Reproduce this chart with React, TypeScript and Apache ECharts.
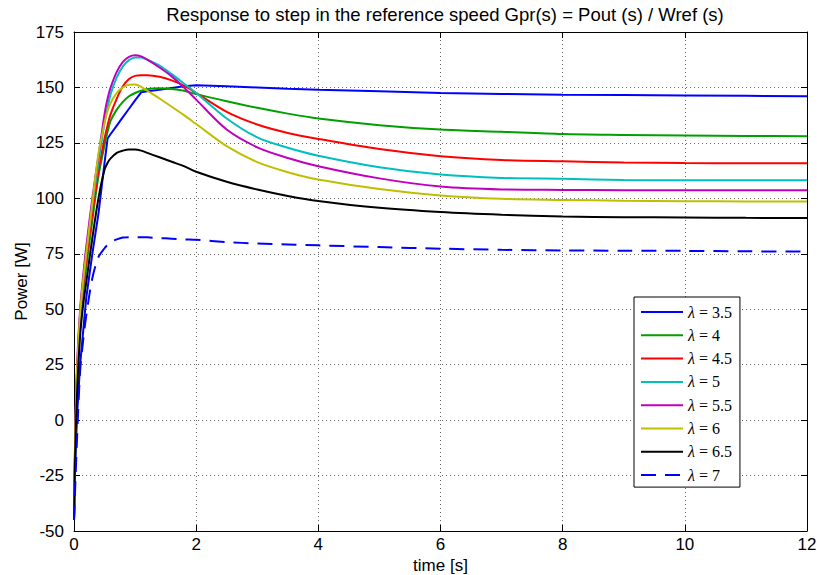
import React, { useEffect, useRef } from "react";
import * as echarts from "echarts";

// time samples [s]
const time = [0, 0.02, 0.05, 0.1, 0.15, 0.2, 0.3, 0.4, 0.5, 0.55, 0.6, 0.7, 0.8, 0.9, 1.0, 1.1, 1.2, 1.4, 1.6, 1.8, 2.0, 2.5, 3, 3.5, 4, 5, 6, 7, 8, 9, 10, 11, 12];

const lambdaLabels = ["3.5", "4", "4.5", "5", "5.5", "6", "6.5", "7"];

// Power [W] per lambda
const p35 = [-45, -20, 2, 25, 40, 55, 75, 93, 116, 127, 129, 132.8, 136.6, 140.4, 144.2, 147.8, 148.3, 149, 149.8, 150.5, 151, 150.5, 150, 149.4, 149, 148.3, 147.5, 147.1, 146.7, 146.6, 146.4, 146.2, 146];
const p4 = [-45, -12, 18, 44, 57, 69, 90, 110, 124, 130, 135, 140, 143.5, 146, 147.5, 148.5, 149.3, 149.6, 149.3, 148.5, 147, 143.8, 140.8, 138.2, 136, 133, 131, 130, 129, 128.6, 128.3, 128.1, 128];
const p45 = [-45, -10, 20, 46, 60, 72, 93, 112, 127, 133, 138, 145, 150.5, 153.8, 155.2, 155.5, 155.5, 154.8, 153.2, 150.8, 147.5, 139, 133.3, 129.5, 126.8, 122.2, 119, 117.3, 116.7, 116.2, 115.9, 115.8, 115.8];
const p5 = [-45, -8, 22, 48, 63, 76, 97, 116, 134, 141, 147, 154.5, 159.5, 162.3, 163.5, 163.5, 162.5, 159.8, 156, 151.8, 147.5, 136, 127.5, 122.8, 119.2, 114, 110.7, 109.2, 108.8, 108.3, 108.1, 108.1, 108.1];
const p55 = [-45, -5, 25, 50, 65, 78, 100, 119, 138, 145, 150, 157, 161.5, 163.8, 164.5, 164, 162.5, 159, 155, 150, 144.5, 131, 123, 118.2, 114.5, 109, 105.3, 104, 103.8, 103.7, 103.6, 103.6, 103.6];
const p6 = [-45, -8, 22, 48, 63, 75, 98, 120, 134, 139.5, 143, 147.5, 150, 151.2, 151.3, 150.3, 148.5, 145, 141.3, 137.5, 133.5, 123.5, 116.3, 111.8, 108.5, 104.2, 101.3, 99.8, 99.3, 98.9, 98.7, 98.6, 98.6];
const p65 = [-45, -15, 12, 38, 52, 62, 82, 100, 113, 116, 118, 120.5, 121.5, 122, 122, 121.5, 120.5, 118.5, 116.5, 114.5, 112, 107.5, 104, 101.1, 98.8, 95.7, 93.8, 92.6, 91.8, 91.5, 91.4, 91.2, 91.1];
const p7 = [-45, -30, -8, 22, 36, 47, 64, 73.5, 77.5, 79, 80.3, 81.5, 82.3, 82.5, 82.5, 82.5, 82.4, 82.1, 81.8, 81.5, 81.3, 80.3, 79.6, 79.2, 78.8, 78, 77.3, 76.8, 76.5, 76.4, 76.3, 76.1, 76];

const colors = ["#0000ff", "#00a000", "#ff0000", "#00bfbf", "#bf00bf", "#bfbf00", "#000000", "#0000ff"];

export default function App() {
  const ref = useRef<HTMLDivElement>(null);
  useEffect(() => {
    document.body.style.margin = "0";
    const chart = echarts.init(ref.current!, null, { renderer: "svg" });
    const values = [p35, p4, p45, p5, p55, p6, p65, p7];
    const font = "Liberation Sans";
    const axisLine = { show: true, onZero: false, lineStyle: { color: "#000", width: 1 } };
    const axisTick = { show: true, inside: true, length: 6, lineStyle: { color: "#000", width: 1 } };
    const split = { show: true, lineStyle: { color: "#666", type: [1, 3], width: 1 } };
    const labelStyle = { color: "#000", fontSize: 17, lineHeight: 17, fontFamily: font };

    chart.setOption({
      animation: false,
      backgroundColor: "#ffffff",
      title: {
        text: "Response to step in the reference speed Gpr(s) = Pout (s) / Wref (s)",
        left: 440,
        textAlign: "center",
        top: 0,
        textStyle: { fontFamily: font, fontSize: 18.5, fontWeight: "normal", color: "#000" },
      },
      grid: { left: 74, right: 10, top: 32, bottom: 44, outerBoundsMode: "none", containLabel: false },
      legend: {
        orient: "vertical",
        left: 634,
        top: 297,
        padding: [7, 8, 4, 6],
        itemWidth: 42,
        itemHeight: 10,
        itemGap: 7.3,
        backgroundColor: "#fff",
        borderColor: "#000",
        borderWidth: 1,
        borderRadius: 0,
        itemStyle: { opacity: 0 },
        formatter: (name: string) => name.replace("λ", "{i|λ}"),
        textStyle: {
          fontFamily: "Liberation Serif",
          fontSize: 16,
          lineHeight: 16,
          color: "#000",
          rich: { i: { fontStyle: "italic", fontFamily: "Liberation Serif", fontSize: 16, lineHeight: 16, color: "#000" } },
        },
      },
      xAxis: [
        {
          type: "value", min: 0, max: 12, interval: 2, position: "bottom",
          name: "time [s]", nameLocation: "middle", nameGap: 26, nameMoveOverlap: false,
          nameTextStyle: labelStyle,
          axisLine, axisTick,
          axisLabel: { ...labelStyle, margin: 5 },
          splitLine: split,
        },
        {
          type: "value", min: 0, max: 12, interval: 2, position: "top",
          axisLine, axisTick, axisLabel: { show: false }, splitLine: { show: false },
        },
      ],
      yAxis: [
        {
          type: "value", min: -50, max: 175, interval: 25, position: "left",
          name: "Power [W]", nameLocation: "middle", nameGap: 44, nameMoveOverlap: false,
          nameTextStyle: labelStyle,
          axisLine, axisTick,
          axisLabel: { ...labelStyle, margin: 10 },
          splitLine: split,
        },
        {
          type: "value", min: -50, max: 175, interval: 25, position: "right",
          axisLine, axisTick, axisLabel: { show: false }, splitLine: { show: false },
        },
      ],
      series: values.map((arr, i) => ({
        name: "λ = " + lambdaLabels[i],
        type: "line",
        xAxisIndex: 0,
        yAxisIndex: 0,
        symbol: "none",
        showSymbol: false,
        smooth: i === 0 ? false : 0.3,
        color: colors[i],
        lineStyle: { color: colors[i], width: 2, type: i === 7 ? [15, 9] : "solid" },
        data: time.map((t, k) => [t, arr[k]]),
      })),
    });
    return () => chart.dispose();
  }, []);
  return <div ref={ref} style={{ width: 817, height: 575 }} />;
}
